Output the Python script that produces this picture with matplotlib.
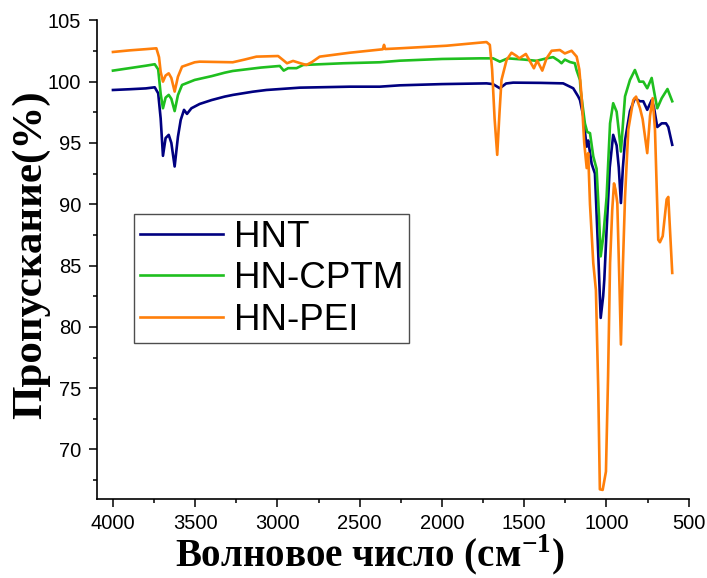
import matplotlib
matplotlib.use("Agg")
import matplotlib.pyplot as plt

plt.rcParams["font.family"] = ["Liberation Sans", "DejaVu Sans"]
plt.rcParams["mathtext.fontset"] = "custom"
plt.rcParams["mathtext.rm"] = "Liberation Serif:bold"
plt.rcParams["mathtext.bf"] = "Liberation Serif:bold"

# FTIR spectra: wavenumber (cm-1) and transmittance (%)
hnt_wn = [4000, 3900, 3800, 3746, 3725, 3710, 3696, 3680, 3661, 3645, 3625, 3605,
          3588, 3568, 3550, 3523, 3473, 3400, 3321, 3270, 3150, 3067, 2864, 2560,
          2378, 2256, 2000, 1729, 1690, 1648, 1610, 1567, 1400, 1263, 1202, 1172,
          1161, 1141, 1137, 1120, 1111, 1090, 1070, 1050, 1035, 1020, 1013, 999,
          980, 959, 938, 925, 912, 900, 887, 857, 827, 796, 776, 752, 725, 712,
          691, 664, 638, 624, 600]
hnt_t = [99.32, 99.38, 99.45, 99.54, 99.05, 97.0, 93.95, 95.4, 95.66, 95.0, 93.08, 95.5,
         96.88, 97.7, 97.37, 97.83, 98.18, 98.5, 98.78, 98.92, 99.18, 99.32, 99.51, 99.59,
         99.59, 99.7, 99.8, 99.86, 99.8, 99.46, 99.85, 99.92, 99.9, 99.86, 99.46, 98.8,
         98.5, 97.2, 96.6, 94.7, 95.2, 93.3, 92.5, 86.0, 80.73, 82.5, 83.85, 87.9,
         93.0, 95.66, 94.8, 93.0, 90.1, 93.0, 95.2, 97.6, 98.65, 98.4, 98.4, 97.7, 98.5, 97.97,
         96.3, 96.6, 96.6, 96.3, 94.85]

cptm_wn = [4000, 3900, 3800, 3746, 3725, 3710, 3696, 3680, 3661, 3645, 3625, 3605,
           3580, 3503, 3400, 3321, 3272, 3100, 2986, 2962, 2935, 2884, 2844, 2600,
           2378, 2256, 2000, 1770, 1689, 1648, 1600, 1500, 1425, 1364, 1324, 1290,
           1273, 1253, 1222, 1192, 1182, 1161, 1157, 1131, 1117, 1100, 1080, 1060,
           1045, 1035, 1019, 999, 978, 959, 938, 925, 912, 900, 887, 857, 827, 800,
           776, 752, 725, 705, 691, 664, 629, 600]
cptm_t = [100.9, 101.1, 101.3, 101.42, 101.0, 99.0, 97.83, 98.7, 98.92, 98.6, 97.6, 98.9,
          99.73, 100.14, 100.45, 100.73, 100.87, 101.15, 101.28, 100.9, 101.1, 101.1, 101.36, 101.5,
          101.58, 101.71, 101.85, 101.9, 101.9, 101.63, 101.9, 101.8, 101.7, 101.9, 102.0, 101.7,
          101.5, 101.8, 101.6, 101.5, 100.95, 100.14, 99.3, 96.6, 95.9, 95.8, 93.9, 92.9,
          89.0, 85.75, 87.4, 90.6, 96.6, 98.24, 97.55, 96.0, 94.3, 96.5, 98.8, 100.14, 100.95, 100.0,
          100.0, 99.46, 100.3, 98.8, 97.83, 98.65, 99.4, 98.4]

pei_wn = [4000, 3900, 3800, 3736, 3720, 3710, 3696, 3680, 3661, 3645, 3625, 3605,
          3580, 3503, 3473, 3272, 3200, 3128, 2996, 2960, 2942, 2905, 2860, 2824,
          2790, 2743, 2560, 2360, 2352, 2345, 2256, 1972, 1770, 1729, 1709, 1695,
          1680, 1664, 1650, 1638, 1607, 1577, 1546, 1530, 1490, 1475, 1441, 1421,
          1390, 1364, 1333, 1283, 1253, 1212, 1181, 1165, 1151, 1135, 1120, 1111,
          1100, 1080, 1064, 1050, 1040, 1023, 1003, 990, 978, 965, 954, 945, 934,
          920, 912, 900, 887, 867, 837, 820, 796, 780, 752, 735, 719, 705, 685,
          675, 658, 634, 624, 600]
pei_t = [102.42, 102.55, 102.65, 102.72, 102.0, 100.8, 100.0, 100.5, 100.68, 100.3, 99.19, 100.4,
         101.22, 101.58, 101.63, 101.58, 101.8, 102.04, 102.09, 101.7, 101.5, 101.69, 101.5, 101.36,
         101.6, 102.04, 102.36, 102.64, 103.0, 102.66, 102.72, 102.93, 103.18, 103.23, 103.0, 101.0,
         97.0, 94.03, 97.5, 100.14, 101.77, 102.36, 102.09, 101.9, 102.26, 101.9, 101.09, 101.71,
         100.9, 101.9, 102.52, 102.58, 102.3, 102.52, 102.04, 101.0, 98.78, 95.0, 92.95, 94.17,
         90.0, 85.2, 83.0, 75.0, 66.75, 66.7, 68.2, 76.0, 85.2, 89.5, 91.7, 91.2, 90.1,
         83.0, 78.56, 85.0, 90.6, 96.1, 98.5, 98.78, 97.83, 96.95, 94.17, 97.2, 98.65, 96.1, 87.1,
         86.9, 87.4, 90.4, 90.6, 84.4]

fig = plt.figure(figsize=(7.07, 5.78), dpi=100)
ax = fig.add_axes([0.1365, 0.1375, 0.8376, 0.8273])

lw = 1.9
ax.plot(hnt_wn, hnt_t, color="#000080", lw=lw, label="HNT")
ax.plot(cptm_wn, cptm_t, color="#1fbf1f", lw=lw, label="HN-CPTM")
ax.plot(pei_wn, pei_t, color="#ff7f0a", lw=lw, label="HN-PEI")

ax.set_xlim(4100, 500)
ax.set_ylim(66, 105)
ax.set_xticks(range(4000, 499, -500))
ax.set_xticks(range(3750, 500, -500), minor=True)
ax.set_yticks(range(70, 106, 5))
ax.set_yticks([67.5 + 5 * i for i in range(8)], minor=True)

for side in ("top", "right"):
    ax.spines[side].set_visible(False)
for side in ("left", "bottom"):
    ax.spines[side].set_linewidth(1.2)

ax.tick_params(which="major", direction="out", length=6, width=1.1,
               labelsize=14.5, pad=5)
ax.tick_params(which="minor", direction="out", length=3, width=1.1)

ax.set_xlabel(r"Волновое число (см$^{-1}$)", family="Liberation Serif",
              fontweight="bold", fontsize=28)
ax.set_ylabel("Пропускание(%)", family="Liberation Serif",
              fontweight="bold", fontsize=31)
ax.xaxis.set_label_coords(0.462, -0.071)
ax.yaxis.set_label_coords(-0.078, 0.51)

leg = ax.legend(loc="upper left", bbox_to_anchor=(134.3 / 707, 1 - 214 / 578),
                bbox_transform=fig.transFigure, borderaxespad=0,
                fontsize=26.5, frameon=True, fancybox=False, handlelength=2.25,
                handletextpad=0.32, borderpad=0.15, labelspacing=0.18)
leg.get_frame().set_edgecolor("#222222")
leg.get_frame().set_linewidth(1.0)

fig.savefig("out.png", dpi=100)
